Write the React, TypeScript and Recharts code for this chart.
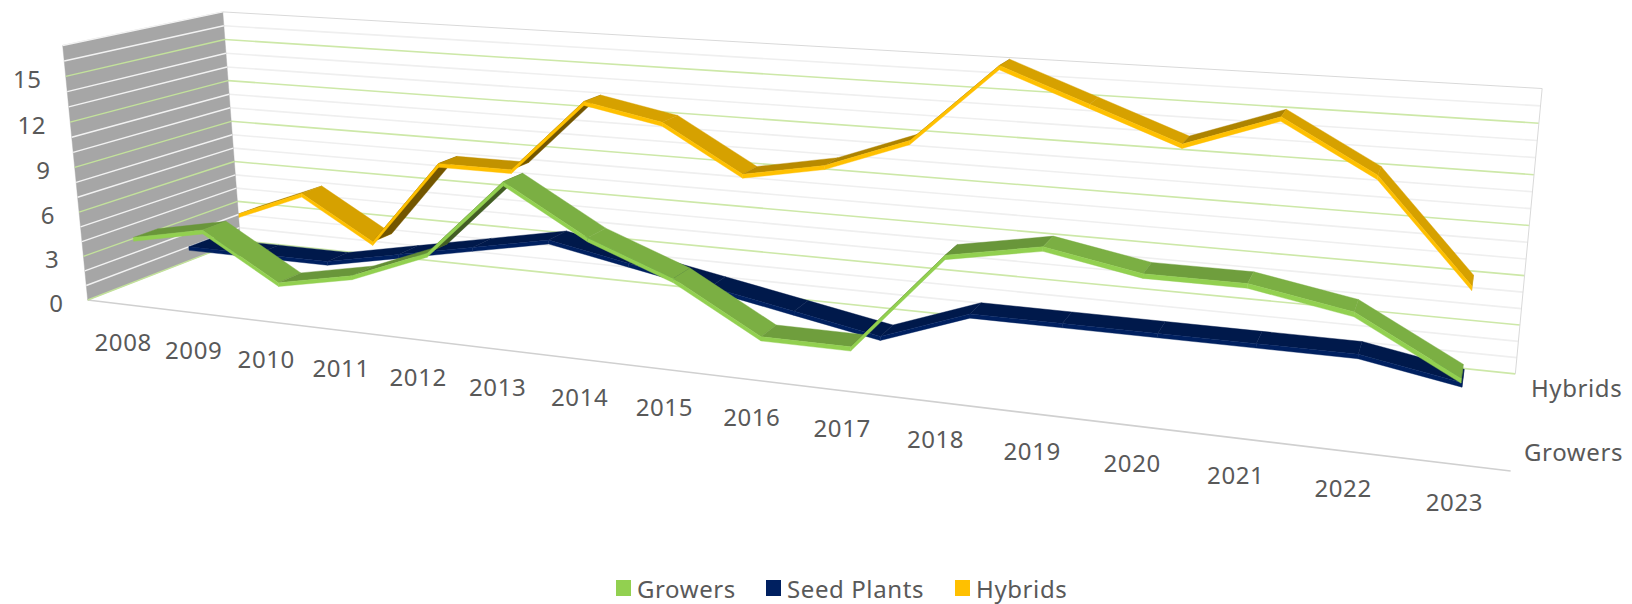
import React from 'react';
import { ScatterChart, Scatter, XAxis, YAxis, Legend } from 'recharts';

const W = 1632;
const H = 604;
const FONT = '"Noto Sans", sans-serif';
const TEXT = '#595959';

// Values
const categories = ['2008', '2009', '2010', '2011', '2012', '2013', '2014', '2015', '2016', '2017', '2018', '2019', '2020', '2021', '2022', '2023'];
const growers = [4, 5, 2, 3, 5, 10, 7, 5, 2, 2, 8, 9, 8, 8, 7, 4];
const seedPlants = [2, 2, 2, 3, 4, 5, 4, 3, 2, 1, 3, 3, 3, 3, 3, 2];
const hybrids = [3, 5, 2, 8, 8, 13, 12, 9, 10, 12, 17, 15, 13, 15, 12, 6];
const valueTicks = [0, 3, 6, 9, 12, 15];
const gridValues = [0, 1, 2, 3, 4, 5, 6, 7, 8, 9, 10, 11, 12, 13, 14, 15, 16, 17];
const depthTicks = ['Growers', '', 'Hybrids'];
const legendNames = ['Growers', 'Seed Plants', 'Hybrids'];
const legendColors = ['#92D050', '#002060', '#FFC000'];

const MAX = 17;
const RIBBON = 0.15; // depth of a ribbon, share of the floor
const THICK = 0.26; // height of the front strip, in value units

// 3D box (u along years, v into the page, w up) to page pixels, homogeneous
const O = [87.7, 300, 1];
const AX = [1075.5, 62.7, -0.23];
const BX = [180.9, -31.1, 0.117];
const CX = [-27.1, -256, -0.033];

type Pt = { x: number; y: number };

const project = (u: number, v: number, val: number): Pt => {
  const w = val / MAX;
  const h = O.map((o, i) => o + u * AX[i] + v * BX[i] + w * CX[i]);
  return { x: h[0] / h[2], y: h[1] / h[2] };
};

const catU = (i: number) => (i + 0.5) / categories.length;

const shade = (hex: string, f: number) => {
  const n = parseInt(hex.slice(1), 16);
  const c = [n >> 16, (n >> 8) & 255, n & 255].map((p) => Math.round(p * f));
  return `rgb(${c.join(',')})`;
};

// how the top of the ribbon catches the light, by change from year to year
const topShade = (dv: number) => {
  if (dv < 0) return 0.84;
  if (dv === 0) return 0.76;
  if (dv === 1) return 0.72;
  if (dv === 2) return 0.68;
  return 0.45;
};
const navyShade = () => 0.78;

type Face = { pts: Pt[]; fill: string };

const ribbonFaces = (values: number[], v0: number, color: string, light = topShade): Face[] => {
  const v1 = v0 + RIBBON;
  const tops: Face[] = [];
  const fronts: Face[] = [];
  for (let i = 0; i < values.length - 1; i++) {
    const a = values[i];
    const b = values[i + 1];
    const ua = catU(i);
    const ub = catU(i + 1);
    tops.push({
      fill: shade(color, light(b - a)),
      pts: [project(ua, v0, a + THICK / 2), project(ub, v0, b + THICK / 2), project(ub, v1, b + THICK / 2), project(ua, v1, a + THICK / 2)],
    });
    fronts.push({
      fill: color,
      pts: [project(ua, v0, a + THICK / 2), project(ub, v0, b + THICK / 2), project(ub, v0, b - THICK / 2), project(ua, v0, a - THICK / 2)],
    });
  }
  const last = values[values.length - 1];
  const ul = catU(values.length - 1);
  const cap: Face = {
    fill: shade(color, 0.8),
    pts: [project(ul, v0, last + THICK / 2), project(ul, v1, last + THICK / 2), project(ul, v1, last - THICK / 2), project(ul, v0, last - THICK / 2)],
  };
  return [...tops, cap, ...fronts];
};

const noDot = () => <g />;

const faceLayer = (key: string, faces: Face[]) => (
  <Scatter
    key={key}
    data={faces.flatMap((f) => f.pts)}
    shape={noDot}
    isAnimationActive={false}
    legendType="none"
    line={(p: any) => (
      <g>
        {faces.map((f, i) => (
          <polygon
            key={i}
            points={p.points.slice(i * 4, i * 4 + 4).map((q: any) => `${q.x},${q.y}`).join(' ')}
            fill={f.fill}
            stroke={f.fill}
            strokeWidth={0.4}
          />
        ))}
      </g>
    )}
  />
);

type Rule = { from: Pt; to: Pt; stroke: string; width: number };

const ruleLayer = (key: string, rules: Rule[]) => (
  <Scatter
    key={key}
    data={rules.flatMap((r) => [r.from, r.to])}
    shape={noDot}
    isAnimationActive={false}
    legendType="none"
    line={(p: any) => (
      <g>
        {rules.map((r, i) => (
          <line
            key={i}
            x1={p.points[i * 2].x}
            y1={p.points[i * 2].y}
            x2={p.points[i * 2 + 1].x}
            y2={p.points[i * 2 + 1].y}
            stroke={r.stroke}
            strokeWidth={r.width}
          />
        ))}
      </g>
    )}
  />
);

const labelShape = (p: any) => (
  <text
    x={p.cx + (p.payload.dx || 0)}
    y={p.cy + (p.payload.dy || 0)}
    fontFamily={FONT}
    fontSize={24}
    letterSpacing={0.6}
    fill={TEXT}
    textAnchor={p.payload.anchor}
    dominantBaseline="central"
  >
    {p.payload.label}
  </text>
);

const isMajor = (v: number) => v % 3 === 0;

const backRules: Rule[] = gridValues.map((v) => ({
  from: project(0, 1, v),
  to: project(1, 1, v),
  stroke: v === MAX ? '#D9D9D9' : isMajor(v) ? '#CDE8A8' : '#EFEFEF',
  width: v === MAX ? 1 : 1.6,
}));

const frameRules: Rule[] = [
  { from: project(1, 1, 0), to: project(1, 1, MAX), stroke: '#D9D9D9', width: 1 },
  { from: project(0, 0, 0), to: project(1, 0, 0), stroke: '#D0D0D0', width: 1.6 },
];

const wallFace: Face = {
  fill: '#A6A6A6',
  pts: [project(0, 0, 0), project(0, 0, MAX), project(0, 1, MAX), project(0, 1, 0)],
};

const wallRules: Rule[] = gridValues.map((v) => ({
  from: project(0, 0, v),
  to: project(0, 1, v),
  stroke: isMajor(v) ? '#C3E29B' : '#F2F2F2',
  width: 1.4,
}));

const valueLabels = valueTicks.map((v) => ({ ...project(0, 0, v), label: String(v), dx: -24, dy: 2, anchor: 'end' }));
const categoryLabels = categories.map((c, i) => ({ ...project(catU(i), 0, 0), label: c, dx: 1, dy: 37, anchor: 'middle' }));
const depthLabels = depthTicks
  .map((d, i) => ({ ...project(1, (i + 0.5) / depthTicks.length, 0), label: d, dx: 62, dy: -1, anchor: 'middle' }))
  .filter((d) => d.label);

const legendLefts = [616, 766, 955];

const renderLegend = () => (
  <div style={{ position: 'relative', height: 36 }}>
    {legendNames.map((name, i) => (
      <div
        key={name}
        style={{
          position: 'absolute',
          left: legendLefts[i],
          top: 0,
          display: 'flex',
          alignItems: 'center',
          height: 36,
          fontFamily: FONT,
          fontSize: 24,
          letterSpacing: 0.6,
          color: TEXT,
          whiteSpace: 'nowrap',
        }}
      >
        <span style={{ width: 15, height: 16, background: legendColors[i], marginRight: 6, display: 'inline-block' }} />
        {name}
      </div>
    ))}
  </div>
);

export default function App() {
  return (
    <div style={{ position: 'absolute', left: 0, top: 0, width: W, height: H }}>
      <ScatterChart width={W} height={H} margin={{ top: 0, right: 0, bottom: 0, left: 0 }}>
        <XAxis type="number" dataKey="x" domain={[0, W]} hide />
        <YAxis type="number" dataKey="y" domain={[0, H]} reversed hide />
        {ruleLayer('back', backRules)}
        {ruleLayer('frame', frameRules)}
        {faceLayer('hybrids', ribbonFaces(hybrids, 0.767, '#FFC000'))}
        {faceLayer('wall', [wallFace])}
        {ruleLayer('wallGrid', wallRules)}
        {faceLayer('seed', ribbonFaces(seedPlants, 0.433, '#002060', navyShade))}
        {faceLayer('growers', ribbonFaces(growers, 0.1, '#92D050'))}
        <Scatter data={valueLabels} shape={labelShape} isAnimationActive={false} legendType="none" />
        <Scatter data={categoryLabels} shape={labelShape} isAnimationActive={false} legendType="none" />
        <Scatter data={depthLabels} shape={labelShape} isAnimationActive={false} legendType="none" />
        <Legend
          layout="horizontal"
          verticalAlign="middle"
          align="center"
          wrapperStyle={{ top: 570, left: 0, width: W, height: 36 }}
          content={renderLegend}
        />
      </ScatterChart>
    </div>
  );
}
